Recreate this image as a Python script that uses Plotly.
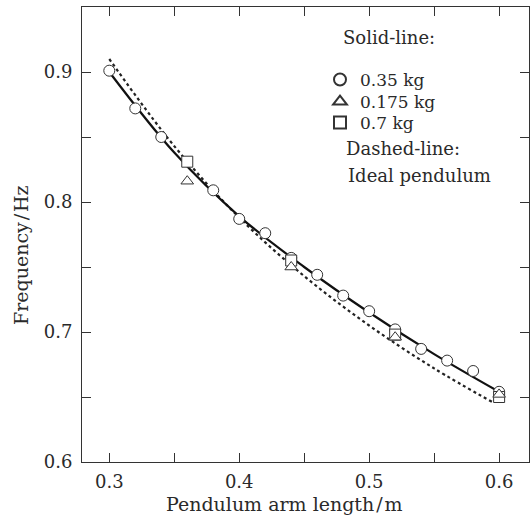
import plotly.graph_objects as go

# ---- data ----
circle_x = [0.30, 0.32, 0.34, 0.38, 0.40, 0.42, 0.44, 0.46, 0.48, 0.50, 0.52, 0.54, 0.56, 0.58, 0.60]
circle_y = [0.901, 0.872, 0.850, 0.809, 0.787, 0.776, 0.757, 0.744, 0.728, 0.716, 0.702, 0.687, 0.678, 0.670, 0.654]

tri_x = [0.36, 0.44, 0.52, 0.60]
tri_y = [0.816, 0.750, 0.696, 0.652]

sq_x = [0.36, 0.44, 0.52, 0.60]
sq_y = [0.831, 0.755, 0.698, 0.650]

solid_x = [0.30, 0.35, 0.40, 0.45, 0.50, 0.55, 0.60]
solid_y = [0.900, 0.838, 0.789, 0.750, 0.715, 0.683, 0.654]

dash_x = [0.30, 0.35, 0.40, 0.45, 0.50, 0.55, 0.595]
dash_y = [0.910, 0.843, 0.788, 0.743, 0.705, 0.672, 0.646]

x_ticks = [0.30, 0.35, 0.40, 0.45, 0.50, 0.55, 0.60]
x_labels = ["0.3", "", "0.4", "", "0.5", "", "0.6"]
y_ticks = [0.60, 0.65, 0.70, 0.75, 0.80, 0.85, 0.90]
y_labels = ["0.6", "", "0.7", "", "0.8", "", "0.9"]

FONT = "DejaVu Serif"
INK = "#2a2a2a"

# plot-area geometry (pixels) used for placing text
L, R, T, B = 82, 2, 7, 60
W, H = 531, 522
PW, PH = W - L - R, H - T - B

def px(x):
    return (x - L) / PW

def py(y):
    return (H - B - y) / PH

fig = go.Figure()
fig.add_trace(go.Scatter(x=dash_x, y=dash_y, mode="lines", line_shape="spline",
                         line=dict(color="#222", width=2.2, dash="dot"), showlegend=False))
fig.add_trace(go.Scatter(x=solid_x, y=solid_y, mode="lines", line_shape="spline",
                         line=dict(color="#111", width=2.2), showlegend=False))
mk = dict(color="white", size=11, line=dict(color="#333", width=1))
fig.add_trace(go.Scatter(x=circle_x, y=circle_y, mode="markers", name="0.35 kg",
                         marker=dict(symbol="circle", **mk), legend="legend"))
fig.add_trace(go.Scatter(x=sq_x, y=sq_y, mode="markers", name="0.7 kg",
                         marker=dict(symbol="square", **mk), legend="legend3"))
fig.add_trace(go.Scatter(x=tri_x, y=tri_y, mode="markers", name="0.175 kg",
                         marker=dict(symbol="triangle-up", **mk), legend="legend2"))

axis_common = dict(showline=True, linecolor="#333", linewidth=1, mirror="ticks",
                   ticks="inside", ticklen=9, tickcolor="#333", tickwidth=1,
                   showgrid=False, zeroline=False,
                   tickfont=dict(family=FONT, size=18, color=INK))

fig.update_xaxes(range=[0.279, 0.623], tickvals=x_ticks, ticktext=x_labels, ticklabelstandoff=3,
                 **axis_common)
fig.update_yaxes(range=[0.6, 0.95], tickvals=y_ticks, ticktext=y_labels, ticklabelstandoff=5,
                 **axis_common)

title_font = dict(family=FONT, size=19, color=INK)
fig.add_annotation(xref="paper", yref="paper", x=px(284), y=py(504), xanchor="center", yanchor="middle",
                   text="Pendulum arm length\u200a/\u200am", showarrow=False, font=title_font)
fig.add_annotation(xref="paper", yref="paper", x=px(21), y=py(255), xanchor="center", yanchor="middle",
                   text="Frequency\u200a/\u200aHz", textangle=-90, showarrow=False, font=title_font)

ann_font = dict(family=FONT, size=18, color=INK)
fig.add_annotation(xref="paper", yref="paper", x=px(341), y=py(38), xanchor="left", yanchor="middle",
                   text="Solid-line:", showarrow=False, font=ann_font)
fig.add_annotation(xref="paper", yref="paper", x=px(344), y=py(148), xanchor="left", yanchor="middle",
                   text="Dashed-line:", showarrow=False, font=ann_font)
fig.add_annotation(xref="paper", yref="paper", x=px(346), y=py(175), xanchor="left", yanchor="middle",
                   text="Ideal pendulum", showarrow=False, font=ann_font)

leg_common = dict(xanchor="left", yanchor="middle", bgcolor="rgba(0,0,0,0)",
                  font=dict(family=FONT, size=17, color=INK), itemsizing="constant")
fig.update_layout(
    width=W, height=H,
    margin=dict(l=L, r=R, t=T, b=B),
    paper_bgcolor="white", plot_bgcolor="white",
    legend=dict(x=px(320), y=py(80), **leg_common),
    legend2=dict(x=px(320), y=py(102), **leg_common),
    legend3=dict(x=px(320), y=py(123), **leg_common),
)

fig.write_html("out.html", config={"displayModeBar": False},
               post_script="document.body.style.margin='0';document.body.style.overflow='hidden';")
